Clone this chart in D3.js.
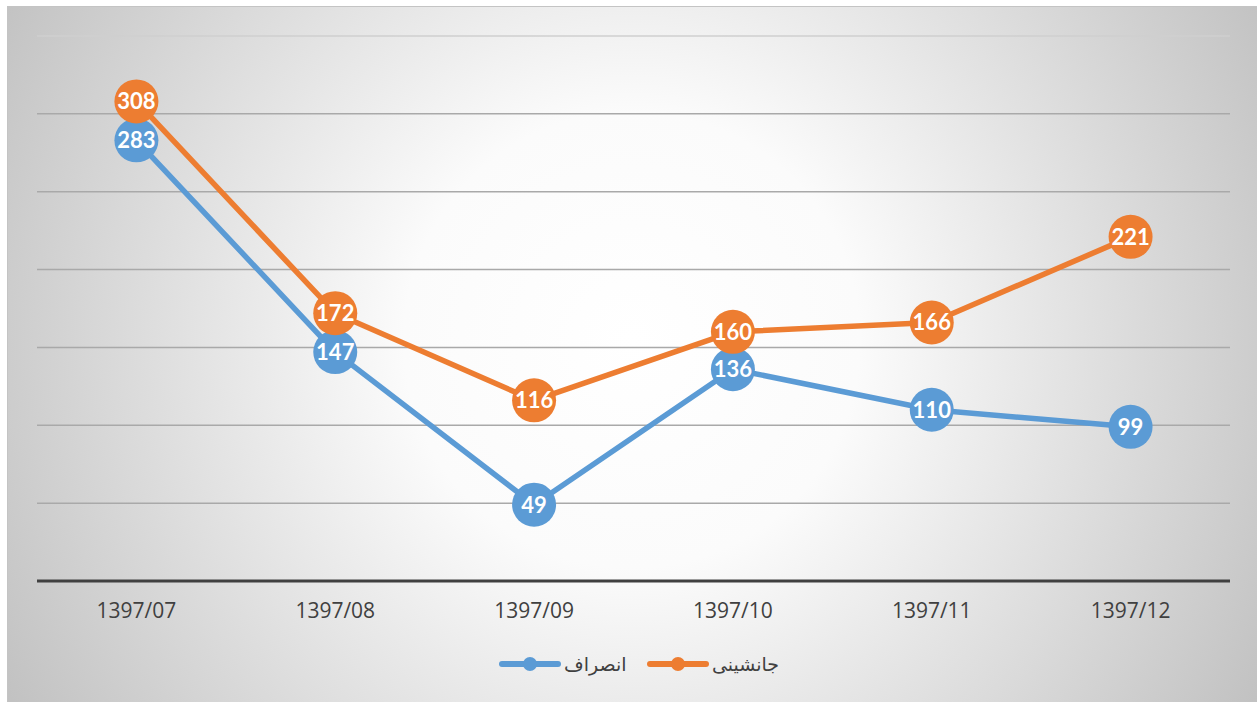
<!DOCTYPE html>
<meta charset="utf-8">
<style>
body { margin: 0; background: #fff; }
.axis--x path, .axis--x line { display: none; }
.axis--x text { font-family: "Open Sans", sans-serif; font-size: 21px; fill: #404040; }
.label { font-family: Lato, "Open Sans", sans-serif; font-weight: bold; font-size: 22px; fill: #fff; }
.legend text { font-family: "DejaVu Sans", sans-serif; font-size: 19px; fill: #404040; }
</style>
<svg width="1257" height="702"></svg>
<script src="https://d3js.org/d3.v7.min.js"></script>
<script>

var months = ["1397/07", "1397/08", "1397/09", "1397/10", "1397/11", "1397/12"];
var ensraf = [283, 147, 49, 136, 110, 99];      // blue
var janeshini = [308, 172, 116, 160, 166, 221]; // orange
var seriesNames = ["انصراف", "جانشینی"];
var seriesColors = ["#5b9bd5", "#ed7d31"];
var yTicks = [0, 50, 100, 150, 200, 250, 300, 350];

var svg = d3.select("svg");

var defs = svg.append("defs");
var grad = defs.append("radialGradient")
    .attr("id", "bg")
    .attr("gradientUnits", "userSpaceOnUse")
    .attr("cx", 632).attr("cy", 340).attr("r", 760);
grad.append("stop").attr("offset", "0%").attr("stop-color", "#ffffff");
grad.append("stop").attr("offset", "30%").attr("stop-color", "#fbfbfb");
grad.append("stop").attr("offset", "100%").attr("stop-color", "#bdbdbd");

svg.append("rect")
    .attr("x", 7.5).attr("y", 6.5)
    .attr("width", 1257).attr("height", 700)
    .attr("fill", "url(#bg)")
    .attr("stroke", "#c4c4c4");

var x = d3.scaleBand().domain(months).range([37, 1230]);
var y = d3.scaleLinear().domain([0, 350]).range([581, 36]);

// gridlines
svg.append("g").selectAll("line")
  .data(yTicks.slice(1))
  .enter().append("line")
    .attr("x1", 37).attr("x2", 1230)
    .attr("y1", function(d) { return y(d); })
    .attr("y2", function(d) { return y(d); })
    .attr("stroke", function(d) { return d == 350 ? "#cfcfcf" : "#a9a9a9"; })
    .attr("stroke-width", 1.5);

// baseline
svg.append("line")
    .attr("x1", 37).attr("x2", 1230)
    .attr("y1", y(0)).attr("y2", y(0))
    .attr("stroke", "#404040")
    .attr("stroke-width", 3);

svg.append("g")
    .attr("class", "axis axis--x")
    .attr("transform", "translate(0," + y(0) + ")")
    .call(d3.axisBottom(x).tickSize(0).tickPadding(22));

var cx = function(d, i) { return x(months[i]) + x.bandwidth() / 2; };
var line = d3.line()
    .x(function(d, i) { return x(months[i]) + x.bandwidth() / 2; })
    .y(function(d) { return y(d); });

[ensraf, janeshini].forEach(function(vals, s) {
  var g = svg.append("g");
  g.append("path")
      .datum(vals)
      .attr("fill", "none")
      .attr("stroke", seriesColors[s])
      .attr("stroke-width", 5.5)
      .attr("stroke-linejoin", "round")
      .attr("d", line);
  g.selectAll("circle")
    .data(vals)
    .enter().append("circle")
      .attr("cx", cx)
      .attr("cy", function(d) { return y(d); })
      .attr("r", 22)
      .attr("fill", seriesColors[s]);
  g.selectAll("text")
    .data(vals)
    .enter().append("text")
      .attr("class", "label")
      .attr("x", cx)
      .attr("y", function(d) { return y(d); })
      .attr("dy", "0.36em")
      .attr("text-anchor", "middle")
      .text(function(d) { return d; });
});

// legend
var legend = svg.append("g").attr("class", "legend");
var legendX = [502, 650];
seriesNames.forEach(function(name, s) {
  var lx = legendX[s];
  legend.append("line")
      .attr("x1", lx).attr("x2", lx + 56)
      .attr("y1", 664).attr("y2", 664)
      .attr("stroke", seriesColors[s])
      .attr("stroke-width", 6)
      .attr("stroke-linecap", "round");
  legend.append("circle")
      .attr("cx", lx + 28).attr("cy", 664).attr("r", 7)
      .attr("fill", seriesColors[s]);
  legend.append("text")
      .attr("x", lx + 62).attr("y", 664)
      .attr("dy", "0.35em")
      .attr("text-anchor", "start")
      .text(name);
});

</script>
